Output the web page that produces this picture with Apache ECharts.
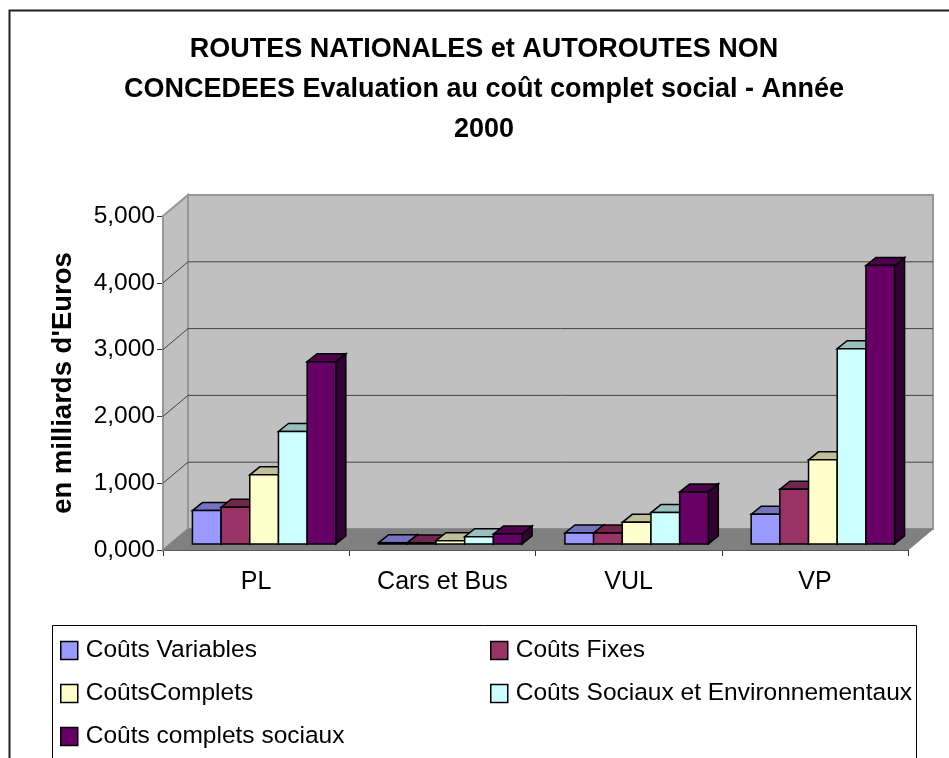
<!DOCTYPE html>
<html>
<head>
<meta charset="utf-8">
<title>Routes nationales</title>
<script src="https://cdn.jsdelivr.net/npm/echarts@6/dist/echarts.min.js"></script>
<style>
html,body{margin:0;padding:0;background:#fff;overflow:hidden}
#main{width:949px;height:758px}
</style>
</head>
<body>
<div id="main"></div>
<script>
var categories = ['PL', 'Cars et Bus', 'VUL', 'VP'];
var seriesNames = ['Coûts Variables', 'Coûts Fixes', 'CoûtsComplets', 'Coûts Sociaux et Environnementaux', 'Coûts complets sociaux'];
var coutsVariables = [500, 20, 165, 445];
var coutsFixes = [550, 15, 165, 820];
var coutsComplets = [1035, 50, 325, 1260];
var coutsSociaux = [1684, 110, 470, 2924];
var coutsCompletsSociaux = [2729, 150, 780, 4168];
var yTicks = [0, 1000, 2000, 3000, 4000, 5000];

var faceColors = ['#9999FF', '#993366', '#FFFFCC', '#CCFFFF', '#660066'];
var topColors = ['#7373BF', '#73264D', '#BFBF99', '#99BFBF', '#4D004D'];
var sideColors = ['#4D4D80', '#4D1A33', '#808066', '#668080', '#330033'];

var chart = echarts.init(document.getElementById('main'));

// profondeur du "3D" en pixels
var wallDx = 25, wallDy = -21;
var barDx = 10, barDy = -8;
var frontDx = 8, frontDy = -6;
var font = '"Liberation Sans", Arial, sans-serif';

function poly(points, fill, stroke, lw) {
    return {
        type: 'polygon',
        shape: { points: points },
        style: { fill: fill, stroke: stroke || null, lineWidth: lw || 0 }
    };
}

function renderWalls(params, api) {
    var p0 = api.coord([0, 0]);
    var band = api.size([1, 0])[0];
    var x0 = p0[0] - band / 2;
    var x1 = x0 + band * categories.length;
    var y0 = p0[1];
    var y1 = api.coord([0, yTicks[yTicks.length - 1]])[1];
    var kids = [
        poly([[x0 + wallDx, y1 + wallDy], [x1 + wallDx, y1 + wallDy], [x1 + wallDx, y0 + wallDy], [x0 + wallDx, y0 + wallDy]], '#C0C0C0', '#969696', 2),
        poly([[x0, y1], [x0 + wallDx, y1 + wallDy], [x0 + wallDx, y0 + wallDy], [x0, y0]], '#C0C0C0', '#969696', 2),
        poly([[x0, y0], [x0 + wallDx, y0 + wallDy], [x1 + wallDx, y0 + wallDy], [x1, y0]], '#808080', '#808080', 1)
    ];
    yTicks.slice(1, -1).forEach(function (t) {
        var y = api.coord([0, t])[1];
        kids.push({
            type: 'polyline',
            shape: { points: [[x0, y], [x0 + wallDx, y + wallDy], [x1 + wallDx, y + wallDy]] },
            style: { fill: null, stroke: '#444', lineWidth: 1 }
        });
    });
    return { type: 'group', children: kids };
}

function renderBar(idx) {
    return function (params, api) {
        var base = api.coord([api.value(0), 0]);
        var top = api.coord([api.value(0), api.value(1)]);
        var band = api.size([1, 0])[0];
        var w = band * 0.154;
        var x = base[0] - w * 2.5 + w * idx + frontDx;
        var yb = base[1] + frontDy;
        var yt = top[1] + frontDy;
        return {
            type: 'group',
            children: [
                poly([[x + w, yt], [x + w + barDx, yt + barDy], [x + w + barDx, yb + barDy], [x + w, yb]], sideColors[idx], '#000', 1.5),
                poly([[x, yt], [x + barDx, yt + barDy], [x + w + barDx, yt + barDy], [x + w, yt]], topColors[idx], '#000', 1.5),
                poly([[x, yt], [x + w, yt], [x + w, yb], [x, yb]], faceColors[idx], '#000', 1.5)
            ]
        };
    };
}

var allValues = [coutsVariables, coutsFixes, coutsComplets, coutsSociaux, coutsCompletsSociaux];
var series = [{
    type: 'custom',
    name: 'parois',
    silent: true,
    z: 1,
    renderItem: renderWalls,
    data: [[0, 0]],
    encode: { x: 0, y: 1 }
}];
seriesNames.forEach(function (name, i) {
    series.push({
        type: 'custom',
        name: name,
        z: 2 + i,
        itemStyle: { color: faceColors[i], borderColor: '#000', borderWidth: 1.5 },
        renderItem: renderBar(i),
        encode: { x: 0, y: 1 },
        data: allValues[i].map(function (v, c) { return [c, v]; })
    });
});

// une legende par entree : deux colonnes, trois rangs
var legends = seriesNames.map(function (name, i) {
    return {
        left: i % 2 ? 490 : 60,
        top: 638 + 43 * Math.floor(i / 2),
        padding: 0,
        itemWidth: 17,
        itemHeight: 18,
        selectedMode: false,
        textStyle: { fontFamily: font, fontSize: 24.5, color: '#000', padding: [0, 0, 4, 3] },
        data: [{ name: name, icon: 'rect', itemStyle: { color: faceColors[i], borderColor: '#000', borderWidth: 1.5 } }]
    };
});

chart.setOption({
    animation: false,
    backgroundColor: '#fff',
    title: {
        text: 'ROUTES NATIONALES et AUTOROUTES NON\nCONCEDEES Evaluation au coût complet social - Année\n2000',
        left: 484,
        top: 30,
        padding: 0,
        textAlign: 'center',
        textStyle: { fontFamily: font, fontSize: 27, fontWeight: 'bold', color: '#000', lineHeight: 40 }
    },
    grid: { left: 163, top: 216, width: 745, height: 334 },
    xAxis: {
        type: 'category',
        data: categories,
        axisLine: { lineStyle: { color: '#333', width: 2 } },
        axisTick: { show: true, alignWithLabel: false, length: 6, lineStyle: { color: '#333' } },
        axisLabel: { fontFamily: font, fontSize: 25, color: '#000', margin: 20 }
    },
    yAxis: {
        type: 'value',
        min: 0,
        max: 5000,
        interval: 1000,
        name: "en milliards d'Euros",
        nameLocation: 'middle',
        nameRotate: 90,
        nameGap: 86,
        nameTextStyle: { fontFamily: font, fontSize: 27.5, fontWeight: 'bold', color: '#000' },
        axisLine: { show: true, lineStyle: { color: '#333', width: 2 } },
        axisTick: { show: true, length: 6, lineStyle: { color: '#333' } },
        splitLine: { show: false },
        axisLabel: {
            fontFamily: font, fontSize: 24.5, color: '#000', margin: 8, padding: [2, 0, 0, 0],
            formatter: function (v) { return (v / 1000).toFixed(0) + ',000'; }
        }
    },
    legend: legends,
    graphic: [
        { type: 'rect', z: -1, shape: { x: 9.5, y: 10.5, width: 960, height: 780 }, style: { fill: '#fff', stroke: '#222', lineWidth: 2 } },
        { type: 'rect', z: 0, shape: { x: 52.5, y: 625.5, width: 864, height: 160 }, style: { fill: '#fff', stroke: '#000', lineWidth: 1 } }
    ],
    series: series
});

window.onresize = function () {
    chart.resize();
};
</script>
</body>
</html>
